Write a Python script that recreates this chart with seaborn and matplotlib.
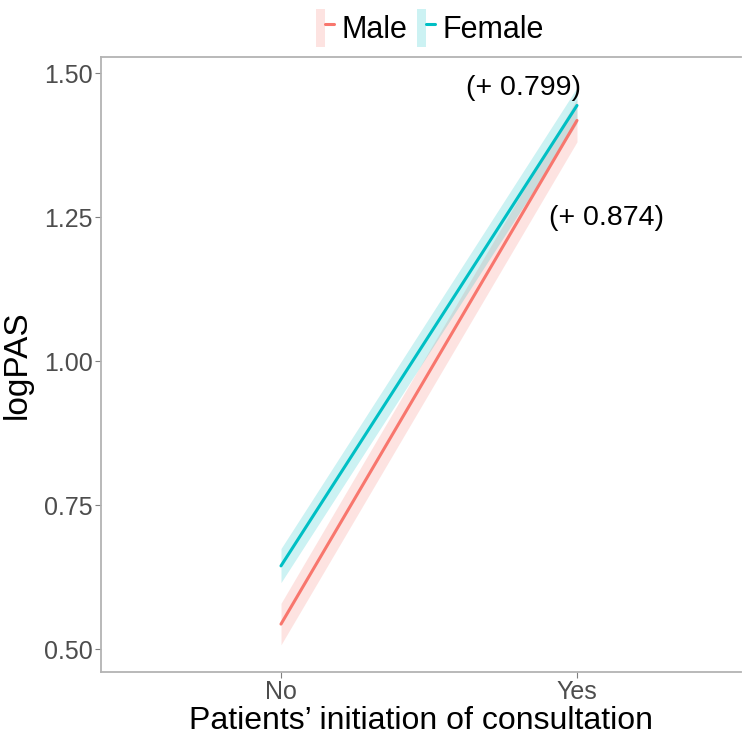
import numpy as np
import pandas as pd
import matplotlib
matplotlib.use("Agg")
import matplotlib.pyplot as plt
import matplotlib.patches as mpatches
from matplotlib.lines import Line2D
from matplotlib.legend_handler import HandlerTuple
import seaborn as sns

# data
consult_levels = ["No", "Yes"]
sexes = ["Male", "Female"]
male_est = [0.544, 1.418]
male_lo = [0.508, 1.381]
male_hi = [0.580, 1.455]
female_est = [0.645, 1.444]
female_lo = [0.616, 1.413]
female_hi = [0.675, 1.475]
diff_labels = ["(+ 0.874)", "(+ 0.799)"]

colors = {"Male": "#F8766D", "Female": "#00BFC4"}


def build_frame():
    rows = []
    for sex, est, lo, hi in [("Male", male_est, male_lo, male_hi),
                             ("Female", female_est, female_lo, female_hi)]:
        for i, lvl in enumerate(consult_levels):
            rows.append({"sex": sex, "consult": lvl, "pos": i,
                         "est": est[i], "lo": lo[i], "hi": hi[i]})
    return pd.DataFrame(rows)


def plot_interaction(df):
    sns.set_style("white")
    plt.rcParams["font.family"] = ["Liberation Sans", "DejaVu Sans"]
    plt.rcParams["text.color"] = "black"
    plt.rcParams["axes.labelcolor"] = "black"

    fig = plt.figure(figsize=(7.45, 7.38), dpi=100)
    fig.patch.set_linewidth(0)
    ax = fig.add_axes([0.1356, 0.0894, 0.995 - 0.1356, 0.8333])

    for sex in sexes:
        sub = df[df["sex"] == sex]
        ax.fill_between(sub["pos"], sub["lo"], sub["hi"],
                        color=colors[sex], alpha=0.2, lw=0)

    sns.lineplot(data=df, x="pos", y="est", hue="sex", hue_order=sexes,
                 palette=colors, lw=2.2, legend=False, ax=ax)

    # difference labels near the "Yes" end
    ax.text(0.82, 1.474, diff_labels[1], fontsize=20.5, ha="center", va="center")
    ax.text(1.10, 1.248, diff_labels[0], fontsize=20.5, ha="center", va="center")

    ax.set_xlim(-0.608, 1.555)
    ax.set_ylim(0.4608, 1.528)
    ax.set_xticks(range(len(consult_levels)))
    ax.set_xticklabels(consult_levels)
    ax.set_yticks([0.5, 0.75, 1.0, 1.25, 1.5])
    ax.set_yticklabels(["0.50", "0.75", "1.00", "1.25", "1.50"])
    ax.tick_params(axis="both", labelsize=18, labelcolor="#4D4D4D",
                   color="#7f7f7f", length=4, width=0.8, direction="out",
                   left=True, bottom=True, pad=2)

    ax.set_xlabel("Patients\u2019 initiation of consultation", fontsize=23, labelpad=1)
    ax.set_ylabel("logPAS", fontsize=24, labelpad=8)

    for side in ["left", "bottom", "top"]:
        ax.spines[side].set_color("#b3b3b3")
        ax.spines[side].set_linewidth(1.3)
    ax.spines["right"].set_visible(False)

    handles = []
    for sex in sexes:
        box = mpatches.Patch(facecolor=colors[sex], alpha=0.2, lw=0)
        ln = Line2D([0], [0], color=colors[sex], lw=2.2)
        handles.append((box, ln))
    fig.legend(handles=handles, labels=sexes, loc="center",
               bbox_to_anchor=(0.577, 0.962), ncol=2, frameon=False,
               fontsize=22, handlelength=0.6, handleheight=1.5,
               handletextpad=0.25, columnspacing=0.3,
               handler_map={tuple: HandlerTuple(ndivide=None, pad=0)})

    fig.savefig("out.png", dpi=100)


if __name__ == "__main__":
    df = build_frame()
    plot_interaction(df)
